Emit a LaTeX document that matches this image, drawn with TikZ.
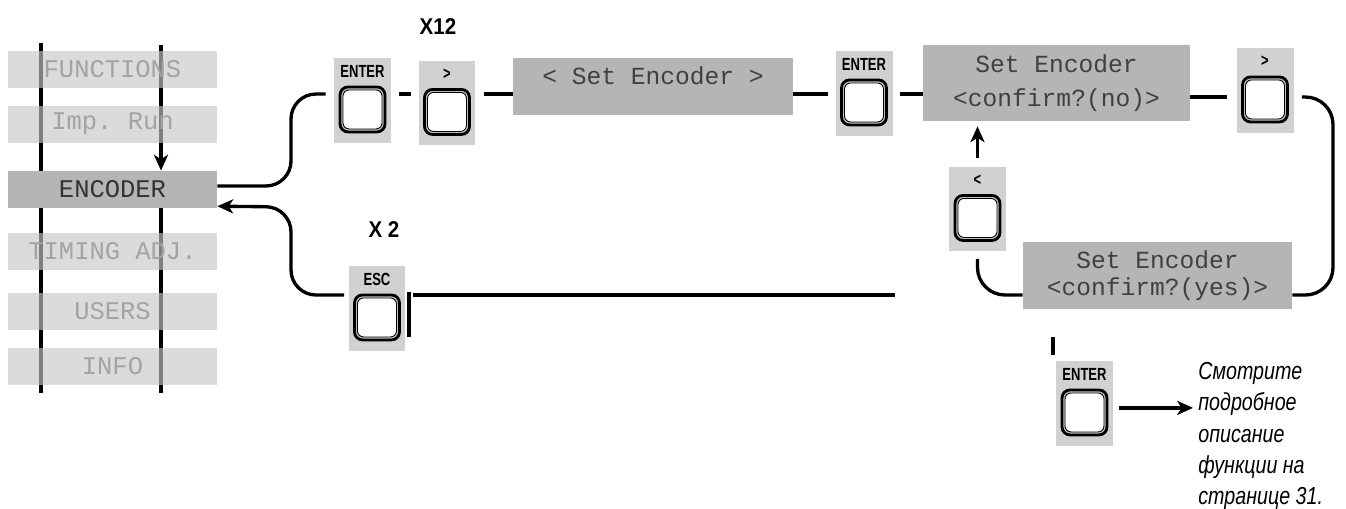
\documentclass[tikz,border=0pt]{standalone}
\usepackage{fontspec}
\setmainfont{Liberation Sans}
\setmonofont{Liberation Mono}
\newfontfamily\keyfont[FakeStretch=0.74]{Liberation Sans}
\newfontfamily\cntfont[FakeStretch=0.9]{Liberation Sans}
\newfontfamily\notefont[FakeStretch=0.8]{Liberation Sans}
\usetikzlibrary{arrows.meta, positioning, backgrounds}

\begin{document}
\begin{tikzpicture}[x=0.02cm, y=-0.02cm, >=Stealth,
      wire/.style={line width=1.9pt},
      rail/.style={line width=2.3pt},
      arr/.style={wire, -{Stealth[length=9pt, width=8pt, inset=2.5pt]}},
      menu/.style={minimum width=4.18cm, minimum height=0.74cm, inner sep=0pt,
                   font=\ttfamily\fontsize{14.5}{15}\selectfont},
      dim/.style={menu, fill=black!22, fill opacity=0.64, text opacity=1, text=black!36},
      sel/.style={menu, fill=black!29, text=black!80},
      lcd/.style={fill=black!29, inner sep=0pt, align=center, text=black!75},
      lcdtxt/.style={inner sep=0pt, text=black!75, font=\ttfamily\fontsize{14}{15}\selectfont},
      btnbg/.style={fill=black!18, minimum width=1.14cm, minimum height=1.7cm, inner sep=0pt},
      keyout/.style={draw, line width=1.6pt, fill=black!25, rounded corners=0.16cm,
                     minimum size=0.9cm, inner sep=0pt},
      keyin/.style={draw, line width=0.5pt, fill=white, rounded corners=0.12cm,
                    minimum size=0.78cm, inner sep=0pt},
      keylbl/.style={inner sep=0pt, font=\keyfont\bfseries\fontsize{10}{10}\selectfont},
      cnt/.style={inner sep=0pt, font=\cntfont\bfseries\fontsize{13}{14}\selectfont},
      note/.style={inner sep=0pt, align=left,
                   font=\notefont\itshape\fontsize{14}{17.9}\selectfont}]

    \useasboundingbox (0,0) rectangle (1346,508);

    % button: name, x, y, label
    \newcommand{\keybtn}[4]{%
      \node[btnbg] (#1) at (#2,#3) {};
      \node[keyout, above=0.2cm of #1.south] (#1k) {};
      \node[keyin] (#1i) at (#1k) {};
      \node[keylbl] (#1l) at ([yshift=-0.28cm]#1.north) {#4};}

    % menu column
    \node[dim] (mFun) at (112.5,69)    {FUNCTIONS};
    \node[dim] (mImp) at (112.5,124)   {Imp. Run};
    \node[sel] (encoder) at (112.5,189.5) {ENCODER};
    \node[dim] (mTim) at (112.5,251.5) {TIMING ADJ.};
    \node[dim] (mUsr) at (112.5,311)   {USERS};
    \node[dim] (mInf) at (112.5,366.5) {INFO};

    % displays
    \node[lcd, minimum width=5.6cm, minimum height=1.14cm] (lcdA) at (653,86.5) {};
    \node[lcdtxt] (lcdAt) at (653,76) {< Set Encoder >};
    \node[lcd, minimum width=5.34cm, minimum height=1.52cm,
          font=\ttfamily\fontsize{14}{19.3}\selectfont] (lcdB) at (1056.5,83)
      {Set Encoder\\<confirm?(no)>};
    \node[lcd, minimum width=5.38cm, minimum height=1.34cm,
          font=\ttfamily\fontsize{14}{15.2}\selectfont] (lcdC) at (1157.5,275.5)
      {Set Encoder\\<confirm?(yes)>};

    % buttons
    \keybtn{ent1}{362.5}{100.5}{ENTER}
    \keybtn{ar1}{447}{103}{>}
    \keybtn{ent2}{864}{93.5}{ENTER}
    \keybtn{ar2}{1265}{90.5}{>}
    \keybtn{lt}{977.5}{209}{<}
    \keybtn{esc}{377}{308.5}{ESC}
    \keybtn{ent3}{1084.5}{403.5}{ENTER}

    \node[cnt] (x12) at (438,26.5) {X12};
    \node[cnt] (x2) at (384,230) {X 2};
    \node[note, anchor=west] (note) at (1198,436)
      {Смотрите\\подробное\\описание\\функции на\\странице 31.};

    % junctions
    \coordinate (jA) at (291,94);
    \coordinate (jB) at (1333,97);
    \coordinate (rR) at (1333,295);
    \coordinate (jE) at (291,207);
    \coordinate (eB) at (895,295);
    \coordinate (railL) at (41,43);
    \coordinate (railR) at (161,45);
    \coordinate (ar3s) at ([yshift=-2.5pt]ent3.east);

    % menu rails
    \begin{scope}[on background layer]
      \draw[rail] (railL) -- (41,393);
      \draw[rail, -{Stealth[length=9pt, width=8pt, inset=2.5pt]}] (railR) -- (railR |- encoder.north);
      \draw[rail] (railR |- encoder.south) -- (161,393);
    \end{scope}

    % top row
    \draw[wire, rounded corners=0.5cm, shorten >=0.16cm] ([yshift=2pt]encoder.east) -| (jA) -- (ent1.west |- jA);
    \draw[wire, shorten <=0.16cm, shorten >=0.14cm] (ent1.east |- jA) -- (ar1.west |- jA);
    \draw[wire, shorten <=0.16cm] (ar1.east |- jA) -- (lcdA.west |- jA);
    \draw[wire, shorten >=0.14cm] (lcdA.east |- jA) -- (ent2.west |- jA);
    \draw[wire, shorten <=0.14cm] (ent2.east |- jA) -- (lcdB.west |- jA);
    \draw[wire, shorten >=0.18cm] (lcdB.east |- jB) -- (ar2.west |- jB);
    \draw[wire, rounded corners=0.55cm, shorten <=0.16cm] (ar2.east |- jB) -| (rR) -- (lcdC.east |- rR);
    \draw[wire, rounded corners=0.55cm, shorten >=0.14cm] (lcdC.west |- rR) -| (lt.south);
    \draw[arr, shorten <=0.16cm, shorten >=0.1cm] (lt.north) -- (lt.north |- lcdB.south);

    % way back
    \draw[wire, shorten <=0.15cm] (esc.east |- rR) -- (eB);
    \draw[arr, rounded corners=0.5cm, shorten <=0.08cm] (esc.west |- rR) -| (jE) -- ([yshift=-9.5pt]encoder.east);
    \draw[line width=2pt] (409,292) -- (409,337);

    % last step
    \draw[line width=2.2pt] (1053,337) -- (1053,355);
    \draw[arr, shorten <=0.12cm, shorten >=0.1cm] (ar3s) -- (ar3s -| note.west);

\end{tikzpicture}
\end{document}
